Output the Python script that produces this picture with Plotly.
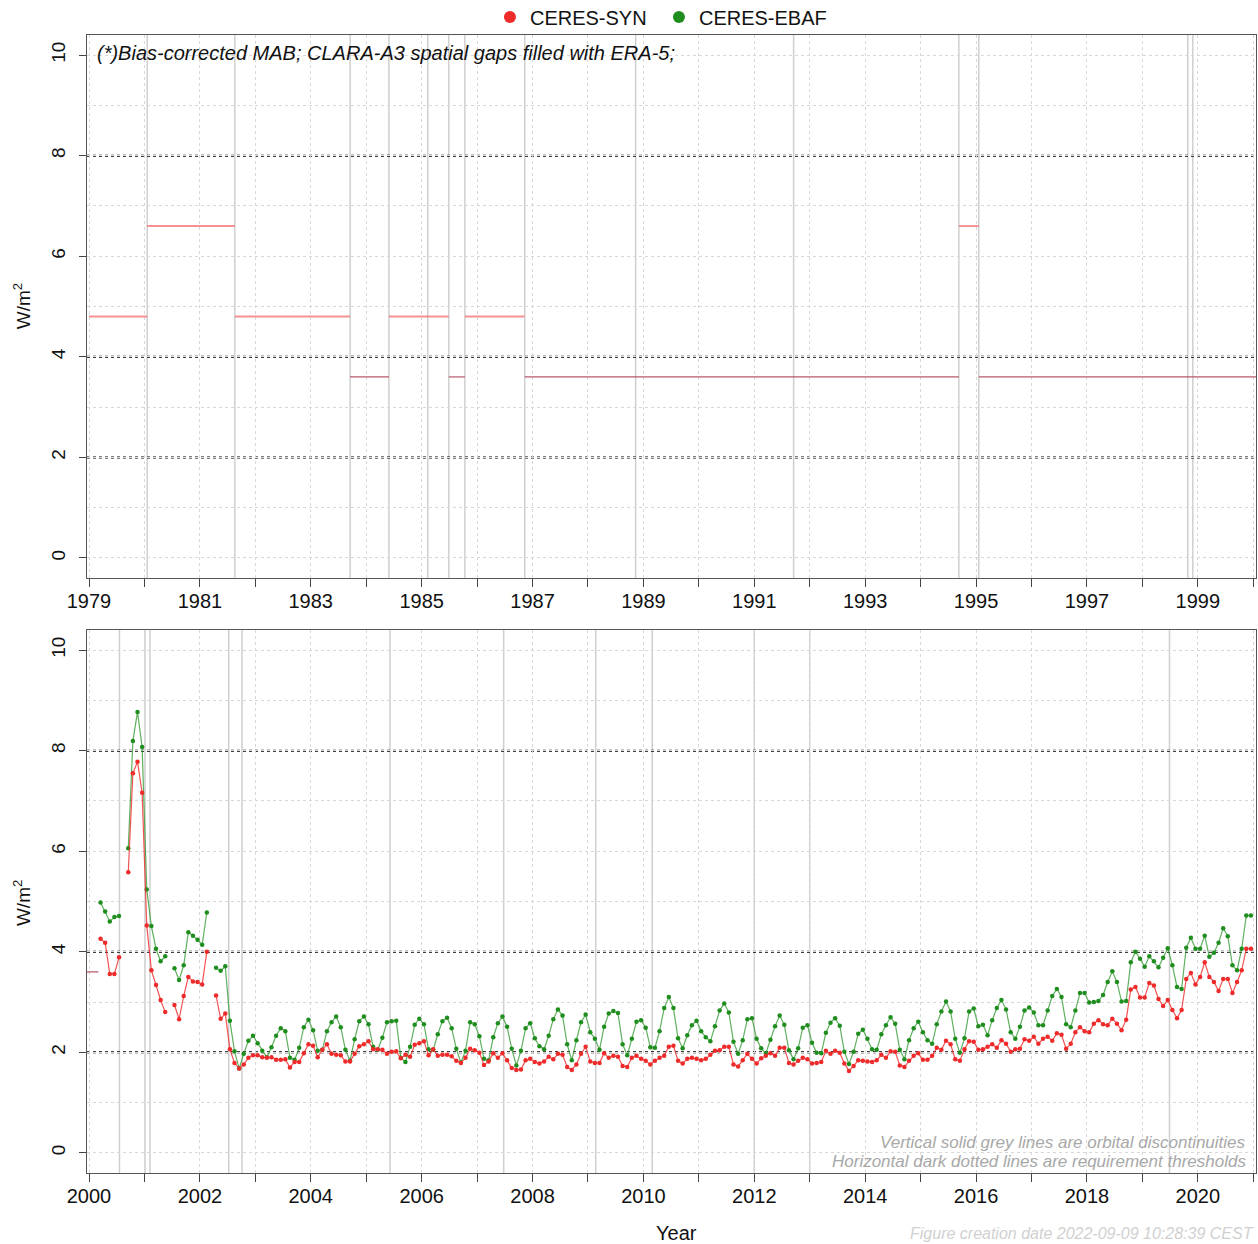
import plotly.graph_objects as go

# ---------------- data ----------------
# monthly series start March 2000, end December 2020 (None = missing month)
start_year, start_month = 2000, 3

syn = [4.26, 4.18, 3.56, 3.56, 3.89, None,
       5.58, 7.55, 7.78, 7.16, 4.52, 3.63, 3.34, 3.04, 2.80, None,
       2.94, 2.66, 3.12, 3.50, 3.41, 3.40, 3.35, 4.00, None,
       3.13, 2.67, 2.77, 2.06, 1.79, 1.68, 1.76, 1.89, 1.94, 1.94,
       1.90, 1.89, 1.90, 1.85, 1.85, 1.86, 1.70, 1.81, 1.81, 1.98,
       2.16, 2.13, 1.90, 2.05, 2.16, 1.97, 1.95, 1.94, 1.82, 1.82,
       1.97, 2.12, 2.16, 2.22, 2.06, 2.06, 2.05, 1.97, 2.01, 2.02,
       1.88, 1.95, 1.91, 2.15, 2.18, 2.22, 1.94, 2.06, 1.93, 1.95,
       1.95, 1.92, 1.83, 1.79, 1.89, 2.07, 2.04, 1.99,
       1.75, 1.82, 1.98, 1.89, 1.98, 1.84, 1.69, 1.65, 1.66, 1.84,
       1.87, 1.81, 1.78, 1.82, 1.91, 1.86, 1.97, 1.95, 1.71, 1.65,
       1.76, 1.97, 2.11, 1.82, 1.79, 1.79, 1.98, 1.89, 1.93, 1.91,
       1.73, 1.71, 1.89, 1.93, 1.87, 1.83, 1.76, 1.83, 1.89, 1.93,
       2.11, 2.13, 1.83, 1.78, 1.87, 1.89, 1.87, 1.84, 1.87, 1.95,
       2.03, 2.04, 2.11, 2.11, 1.76, 1.72, 1.84, 1.97, 1.87, 1.78,
       1.88, 1.93, 1.98, 1.93, 2.09, 2.09, 1.79, 1.76, 1.83, 1.89,
       1.86, 1.78, 1.79, 1.81, 2.03, 1.97, 2.03, 1.99, 1.78, 1.63,
       1.73, 1.84, 1.83,
       1.82, 1.81, 1.84, 1.95, 1.89, 2.02, 2.01, 1.74, 1.71, 1.83,
       1.93, 1.98, 1.85, 1.85, 1.93, 2.09, 2.05, 2.23, 2.16, 1.86,
       1.83, 2.06, 2.22, 2.21, 2.05, 2.06, 2.11, 2.16, 2.09, 2.24,
       2.17, 2.01, 2.06, 2.07, 2.26, 2.23, 2.31, 2.17, 2.27, 2.31,
       2.23, 2.38, 2.35, 2.07, 2.17, 2.40, 2.50, 2.42, 2.40, 2.57,
       2.64, 2.56, 2.54, 2.67, 2.57, 2.44, 2.65, 3.25, 3.30, 3.09,
       3.09, 3.38, 3.33, 3.06, 2.92, 3.04, 2.84, 2.68, 2.84, 3.46,
       3.58, 3.35, 3.50, 3.79, 3.50, 3.40, 3.22, 3.46, 3.46, 3.18,
       3.40, 3.63, 4.06, 4.06]

ebaf = [4.98, 4.80, 4.60, 4.69, 4.71, None,
        6.06, 8.19, 8.77, 8.07, 5.24, 4.51, 4.06, 3.81, 3.91, None,
        3.67, 3.44, 3.73, 4.39, 4.32, 4.24, 4.14, 4.78, None,
        3.68, 3.62, 3.71, 2.63, 2.02, 1.68, 1.97, 2.23, 2.33, 2.18,
        2.03, 1.90, 2.10, 2.33, 2.48, 2.42, 1.89, 1.85, 2.09, 2.50,
        2.65, 2.44, 2.03, 2.05, 2.42, 2.60, 2.71, 2.50, 2.05, 1.83,
        2.26, 2.62, 2.71, 2.56, 2.11, 2.05, 2.29, 2.60, 2.62, 2.63,
        1.89, 1.81, 2.11, 2.55, 2.67, 2.56, 2.06, 2.05, 2.36, 2.62,
        2.69, 2.48, 2.07, 1.80, 2.03, 2.60, 2.56, 2.32,
        1.87, 1.84, 2.30, 2.58, 2.71, 2.51, 2.07, 1.74, 2.03, 2.48,
        2.58, 2.28, 2.12, 2.06, 2.33, 2.66, 2.85, 2.73, 2.16, 1.84,
        2.24, 2.60, 2.75, 2.40, 2.27, 2.05, 2.51, 2.77, 2.82, 2.78,
        2.16, 1.94, 2.27, 2.61, 2.64, 2.49, 2.10, 2.09, 2.42, 2.88,
        3.10, 2.88, 2.28, 2.08, 2.34, 2.54, 2.63, 2.42, 2.30, 2.22,
        2.52, 2.83, 2.97, 2.79, 2.21, 1.97, 2.24, 2.66, 2.68, 2.27,
        2.08, 1.98, 2.25, 2.52, 2.73, 2.55, 2.04, 1.86, 2.08, 2.49,
        2.54, 2.19, 1.99, 1.98, 2.39, 2.59, 2.68, 2.53, 2.01, 1.77,
        2.01, 2.37, 2.45,
        2.27, 2.06, 2.05, 2.36, 2.54, 2.70, 2.57, 2.05, 1.86, 2.24,
        2.48, 2.61, 2.40, 2.24, 2.17, 2.56, 2.81, 3.01, 2.81, 2.27,
        1.99, 2.28, 2.81, 2.87, 2.52, 2.55, 2.34, 2.64, 2.88, 3.04,
        2.85, 2.40, 2.27, 2.51, 2.83, 2.89, 2.79, 2.54, 2.54, 2.83,
        3.12, 3.26, 3.10, 2.56, 2.50, 2.83, 3.18, 3.18, 2.99, 3.00,
        3.02, 3.14, 3.40, 3.61, 3.40, 3.01, 3.02, 3.79, 4.00, 3.86,
        3.70, 3.91, 3.81, 3.69, 3.88, 4.07, 3.73, 3.30, 3.26, 4.08,
        4.28, 4.06, 4.06, 4.32, 3.90, 3.98, 4.18, 4.47, 4.31, 3.73,
        3.63, 4.06, 4.72, 4.72]

# step-wise MAB reference (1979-2000)
seg_start = [1979.0, 1980.05, 1981.63, 1983.71, 1984.41, 1985.49, 1985.78, 1986.86, 1994.69, 1995.05]
seg_end   = [1980.05, 1981.63, 1983.71, 1984.41, 1985.49, 1985.78, 1986.86, 1994.69, 1995.05, 2000.17]
seg_value = [4.8, 6.6, 4.8, 3.6, 4.8, 3.6, 4.8, 3.6, 6.6, 3.6]

# orbital discontinuities (decimal years)
orbit_top = [1980.05, 1981.63, 1983.71, 1984.41, 1985.11, 1985.49, 1985.78, 1986.86,
             1988.86, 1991.71, 1994.69, 1995.05, 1998.82, 1998.91]
orbit_bottom = [2000.55, 2001.01, 2001.10, 2002.52, 2002.76, 2005.43, 2007.48,
                2009.14, 2010.16, 2012.0, 2013.0, 2019.49]

thresholds = [2, 4, 8]
y_ticks = [0, 2, 4, 6, 8, 10]
top_years = list(range(1979, 2001))
bottom_years = list(range(2000, 2022))
top_labels = top_years[::2]
bottom_labels = bottom_years[::2]

# ---------------- figure ----------------
RED = "#EE2A2A"
GREEN = "#1F8E1F"
FONT = "Liberation Sans"

dates = [start_year + (start_month - 1 + k + 0.5) / 12 for k in range(len(syn))]

fig = go.Figure()

# top panel step lines (also visible at the start of the bottom panel)
for s, e, v in zip(seg_start, seg_end, seg_value):
    hi = v > 4
    for ax in ("x", "x2"):
        fig.add_trace(go.Scatter(
            x=[s, e], y=[v, v], mode="lines", xaxis=ax, yaxis="y" if ax == "x" else "y2",
            line=dict(color="rgba(240,110,110,0.75)" if hi else "rgba(175,70,90,0.9)",
                      width=2 if hi else 1.2),
            showlegend=False, hoverinfo="skip"))

# bottom panel series
fig.add_trace(go.Scatter(x=dates, y=ebaf, mode="lines+markers", xaxis="x2", yaxis="y2",
                         line=dict(color="rgba(40,150,40,0.75)", width=1.2),
                         marker=dict(color=GREEN, size=4.5), showlegend=False,
                         connectgaps=False))
fig.add_trace(go.Scatter(x=dates, y=syn, mode="lines+markers", xaxis="x2", yaxis="y2",
                         line=dict(color="rgba(240,40,40,0.8)", width=1.2),
                         marker=dict(color=RED, size=4.5), showlegend=False,
                         connectgaps=False))

# legend entries
fig.add_trace(go.Scatter(x=[None], y=[None], mode="markers", name="CERES-SYN",
                         marker=dict(color=RED, size=10)))
fig.add_trace(go.Scatter(x=[None], y=[None], mode="markers", name="CERES-EBAF",
                         marker=dict(color=GREEN, size=10)))

TOP_DOM = [0.5228, 1.0]
BOT_DOM = [0.0, 0.4772]

shapes = []
for xa, ya, lst, dom in (("x", "y", orbit_top, TOP_DOM), ("x2", "y2", orbit_bottom, BOT_DOM)):
    for v in lst:
        shapes.append(dict(type="line", xref=xa, yref="paper",
                           x0=v, x1=v, y0=dom[0], y1=dom[1],
                           line=dict(color="#CFCFCF", width=1.5), layer="below"))
    for t in thresholds:
        shapes.append(dict(type="line", xref="paper", yref=ya, x0=0, x1=1, y0=t, y1=t,
                           line=dict(color="#000000", width=2, dash="dot"), layer="below"))


def xaxis(years, labels, rng, anchor):
    return dict(
        range=rng, tickmode="array", tickvals=labels,
        ticktext=[str(y) for y in labels],
        ticks="outside", ticklen=8, tickcolor="#444", tickwidth=1,
        showgrid=True, gridcolor="#D8D8D8", griddash="dot", gridwidth=1,
        minor=dict(tickvals=years, ticks="outside", ticklen=8, tickcolor="#444",
                   showgrid=True, gridcolor="#D8D8D8", griddash="dot"),
        showline=True, linecolor="#555", linewidth=1, mirror=True,
        zeroline=False, anchor=anchor, ticklabelstandoff=-3,
        tickfont=dict(size=20, color="#111", family=FONT),
    )


def yaxis(domain, anchor):
    return dict(
        domain=domain, range=[-0.4, 10.4], tickmode="array", tickvals=y_ticks,
        ticktext=[str(v) for v in y_ticks], tickangle=-90,
        ticks="outside", ticklen=7, tickcolor="#444",
        showgrid=True, gridcolor="#D8D8D8", griddash="dot",
        minor=dict(dtick=1, tick0=0, showgrid=True, gridcolor="#D8D8D8", griddash="dot", ticks=""),
        showline=True, linecolor="#555", linewidth=1, mirror=True,
        zeroline=False, anchor=anchor, ticklabelstandoff=6,
        tickfont=dict(size=19, color="#111", family=FONT),
    )


fig.update_layout(
    width=1258, height=1244,
    margin=dict(l=87, r=2, t=35, b=71, autoexpand=False),
    paper_bgcolor="white", plot_bgcolor="white",
    font=dict(family=FONT, size=19, color="#111"),
    xaxis=xaxis(top_years, top_labels, [1978.964, 2000.05], "y"),
    yaxis=yaxis(TOP_DOM, "x"),
    xaxis2=xaxis(bottom_years, bottom_labels, [1999.964, 2021.05], "y2"),
    yaxis2=yaxis(BOT_DOM, "x2"),
    shapes=shapes,
    legend=dict(orientation="h", x=0.3447, xanchor="left", y=1.0158, yanchor="middle",
                font=dict(size=20, family=FONT), bgcolor="rgba(0,0,0,0)",
                entrywidth=124, entrywidthmode="pixels", itemsizing="constant"),
    showlegend=True,
)

ann = [
    dict(text="<i>(*)Bias-corrected MAB; CLARA-A3 spatial gaps filled with ERA-5;</i>",
         xref="paper", yref="paper", x=0.0068, y=0.9842, xanchor="left", yanchor="middle",
         showarrow=False, font=dict(size=20, color="#111", family=FONT)),
    dict(text="W/m<sup>2</sup>", xref="paper", yref="paper", x=-0.0556, y=0.7616,
         textangle=-90, showarrow=False, xanchor="center", yanchor="middle",
         font=dict(size=19, color="#111", family=FONT)),
    dict(text="W/m<sup>2</sup>", xref="paper", yref="paper", x=-0.0556, y=0.2372,
         textangle=-90, showarrow=False, xanchor="center", yanchor="middle",
         font=dict(size=19, color="#111", family=FONT)),
    dict(text="<i>Vertical solid grey lines are orbital discontinuities</i>",
         xref="paper", yref="paper", x=0.9932, y=0.0272, xanchor="right", yanchor="middle",
         showarrow=False, font=dict(size=17, color="#A8A8A8", family=FONT)),
    dict(text="<i>Horizontal dark dotted lines are requirement thresholds</i>",
         xref="paper", yref="paper", x=0.9932, y=0.0097, xanchor="right", yanchor="middle",
         showarrow=False, font=dict(size=17, color="#A8A8A8", family=FONT)),
    dict(text="Year", xref="paper", yref="paper", x=0.5047, y=-0.0527,
         xanchor="center", yanchor="middle", showarrow=False,
         font=dict(size=20, color="#111", family=FONT)),
    dict(text="<i>Figure creation date 2022-09-09 10:28:39 CEST</i>",
         xref="paper", yref="paper", x=1.0, y=-0.0536, xanchor="right", yanchor="middle",
         showarrow=False, font=dict(size=16, color="#D0D0D0", family=FONT)),
]
fig.update_layout(annotations=ann)

fig.write_html("out.html", config={"displayModeBar": False},
               post_script="document.body.style.margin='0px';")
